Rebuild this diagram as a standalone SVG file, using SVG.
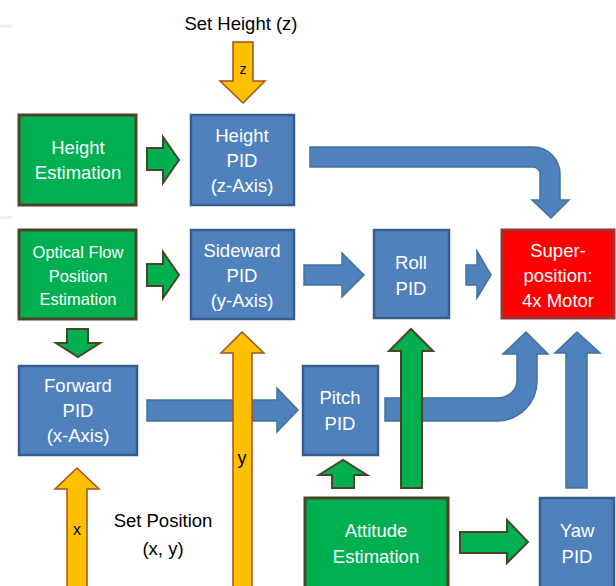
<svg xmlns="http://www.w3.org/2000/svg" width="616" height="586" viewBox="0 0 616 586">
<style>
text{font-family:"Liberation Sans",Arial,sans-serif;}
.bt{fill:#fff;font-size:18.5px;text-anchor:middle;}
.lb{fill:#000;font-size:18.5px;text-anchor:middle;}
.blue{fill:#4F81BD;stroke:#385D8A;stroke-width:2.5;}
.green{fill:#00B050;stroke:#4A452A;stroke-width:3;}
.red{fill:#FF0000;stroke:#953735;stroke-width:3;}
.ab{fill:#4F81BD;stroke:#41719C;stroke-width:1.5;stroke-linejoin:miter;}
.ag{fill:#00B050;stroke:#4A452A;stroke-width:2;stroke-linejoin:miter;}
.ay{fill:#FFC000;stroke:#A0521E;stroke-width:1.5;stroke-linejoin:miter;}
</style>
<rect x="0" y="0" width="616" height="586" fill="#fff"/>
<rect x="0" y="24.5" width="12" height="3" fill="#eee"/>
<rect x="0" y="216" width="12" height="3" fill="#eee"/>

<text class="lb" x="241" y="30">Set Height (z)</text>
<text class="lb" x="163" y="527">Set Position</text>
<text class="lb" x="163" y="555">(x, y)</text>

<g id="connectors">
<path class="ab" d="M310,147 H533 A27,27 0 0 1 560,174 V200 H569 L551,218 L532,200 H540 V174 A7,7 0 0 0 533,167 H310 Z"/>
<path class="ag" d="M147,148 H163 V137 L179,160 L163,183 V170 H147 Z"/>
<path class="ag" d="M147,264 H163 V252 L179,275 L163,298 V286 H147 Z"/>
<path class="ag" d="M67,329 H88 V343 H100 L78,357 L56,343 H67 Z"/>
<path class="ab" d="M304,265 H342 V253 L364,275 L342,297 V285 H304 Z"/>
<path class="ab" d="M466,265 H477 V251 L491,275 L477,298 V285 H466 Z"/>
<path class="ab" d="M147,400 H277 V388 L298,410 L277,432 V421 H147 Z"/>
<path class="ab" d="M385,398 H497 A20,17 0 0 0 517,381 V354 H503 L526,332 L548,354 H537 V381 A40,40 0 0 1 497,421 H385 Z"/>
<path class="ab" d="M566,488 V353 H555 L577,332 L600,353 H587 V488 Z"/>
<path class="ag" d="M332,488 V475 H319 L343,460 L367,475 H354 V488 Z"/>
<path class="ag" d="M401,488 V351 H389 L411,329 L433,351 H422 V488 Z"/>
<path class="ag" d="M460,532 H507 V520 L528,542 L507,563 V553 H460 Z"/>
<path class="ay" d="M233,42 H253 V81 H265 L243,103 L220,81 H233 Z"/>
<path class="ay" d="M233,590 V353 H221 L242,332 L264,353 H252 V590 Z"/>
<path class="ay" d="M67,590 V489 H55 L77,468 L99,489 H87 V590 Z"/>
<text x="243" y="74" style="font-size:14px;text-anchor:middle;fill:#000">z</text>
<text x="242" y="464" style="font-size:18px;text-anchor:middle;fill:#000">y</text>
<text x="77" y="535" style="font-size:16px;text-anchor:middle;fill:#000">x</text>
</g>

<g id="height-estimation">
<rect class="green" x="19" y="115" width="117" height="90"/>
<text class="bt" x="78" y="154">Height</text>
<text class="bt" x="78" y="179">Estimation</text>
</g>
<g id="height-pid">
<rect class="blue" x="191" y="115" width="103" height="90"/>
<text class="bt" x="242" y="142">Height</text>
<text class="bt" x="242" y="167">PID</text>
<text class="bt" x="242" y="192">(z-Axis)</text>
</g>
<g id="optical-flow">
<rect class="green" x="19" y="230" width="117" height="89"/>
<text class="bt" x="78" y="258" style="font-size:16.5px">Optical Flow</text>
<text class="bt" x="78" y="282" style="font-size:16.5px">Position</text>
<text class="bt" x="78" y="305" style="font-size:16.5px">Estimation</text>
</g>
<g id="sideward-pid">
<rect class="blue" x="191" y="230" width="103" height="89"/>
<text class="bt" x="242" y="257">Sideward</text>
<text class="bt" x="242" y="282">PID</text>
<text class="bt" x="242" y="307">(y-Axis)</text>
</g>
<g id="roll-pid">
<rect class="blue" x="374" y="230" width="75" height="88"/>
<text class="bt" x="411" y="269">Roll</text>
<text class="bt" x="411" y="295">PID</text>
</g>
<g id="superposition">
<rect class="red" x="502" y="230" width="112" height="88"/>
<text class="bt" x="558" y="257">Super-</text>
<text class="bt" x="558" y="282">position:</text>
<text class="bt" x="558" y="307">4x Motor</text>
</g>
<g id="forward-pid">
<rect class="blue" x="19" y="366" width="118" height="89"/>
<text class="bt" x="78" y="392">Forward</text>
<text class="bt" x="78" y="417">PID</text>
<text class="bt" x="78" y="442">(x-Axis)</text>
</g>
<g id="pitch-pid">
<rect class="blue" x="303" y="366" width="75" height="89"/>
<text class="bt" x="340" y="404">Pitch</text>
<text class="bt" x="340" y="430">PID</text>
</g>
<g id="attitude-estimation">
<rect class="green" x="305" y="498" width="143" height="100"/>
<text class="bt" x="376" y="537">Attitude</text>
<text class="bt" x="376" y="563">Estimation</text>
</g>
<g id="yaw-pid">
<rect class="blue" x="540" y="498" width="74" height="100"/>
<text class="bt" x="577" y="537">Yaw</text>
<text class="bt" x="577" y="563">PID</text>
</g>
</svg>
